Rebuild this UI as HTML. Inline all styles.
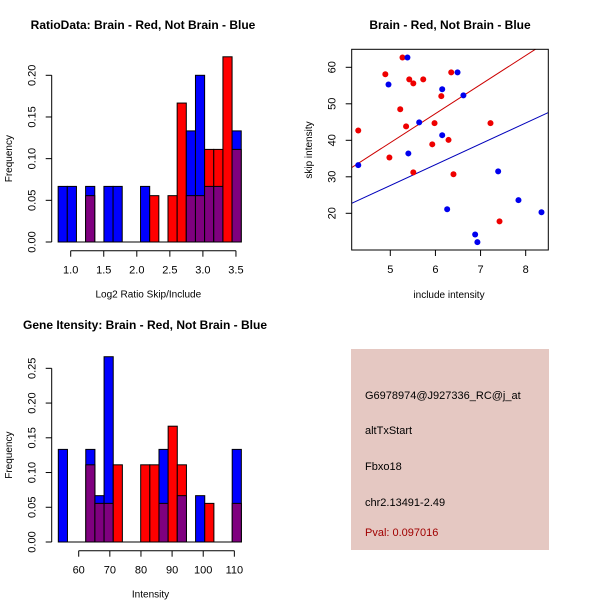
<!DOCTYPE html>
<html><head><meta charset="utf-8"><style>
body{margin:0;background:#fff}
svg{display:block;font-family:"Liberation Sans",sans-serif}
</style></head><body>
<svg id="c" width="600" height="600" viewBox="0 0 600 600" xmlns="http://www.w3.org/2000/svg">
<rect width="600" height="600" fill="#fff"/>
<text x="143" y="29" text-anchor="middle" font-size="12" font-weight="bold">RatioData: Brain - Red, Not Brain - Blue</text>
<text x="450" y="29" text-anchor="middle" font-size="12" font-weight="bold">Brain - Red, Not Brain - Blue</text>
<text x="145" y="329" text-anchor="middle" font-size="12" font-weight="bold">Gene Itensity: Brain - Red, Not Brain - Blue</text>
<g id="h1"></g>
<g id="h2"></g>
<g id="sc"></g>
<g>
<rect x="351" y="349" width="198" height="201" fill="#e5c8c2"/>
<text x="365" y="399" font-size="11">G6978974@J927336_RC@j_at</text>
<text x="365" y="434" font-size="11">altTxStart</text>
<text x="365" y="470" font-size="11">Fbxo18</text>
<text x="365" y="506" font-size="11">chr2.13491-2.49</text>
<text x="365" y="536" font-size="11" fill="#a00000">Pval: 0.097016</text>
</g>
</svg>
<script>
// Ratio histogram data (20 bins)
const ratioBinStart = 0.81, ratioBinWidth = 0.1385;
const ratioBlue = [0.0667,0.0667,0,0.0667,0,0.0667,0.0667,0,0,0.0667,0,0,0,0,0.1333,0.2,0.0667,0.0667,0,0.1333];
const ratioRed  = [0,0,0,0.0556,0,0,0,0,0,0,0.0556,0,0.0556,0.1667,0.0556,0.0556,0.1111,0.1111,0.2222,0.1111];
const ratioXTicks = [1.0,1.5,2.0,2.5,3.0,3.5];
const ratioYTicks = [0,0.05,0.10,0.15,0.20];
// Intensity histogram data
const intBinStart = 53.45, intBinWidth = 2.94;
const intBlue = [0.1333,0,0,0.1333,0.0667,0.2667,0,0,0,0,0,0.1333,0,0.0667,0,0.0667,0,0,0,0.1333];
const intRed  = [0,0,0,0.1111,0.0556,0.0556,0.1111,0,0,0.1111,0.1111,0.0556,0.1667,0.1111,0,0,0.0556,0,0,0.0556];
const intXTicks = [60,70,80,90,100,110];
const intYTicks = [0,0.05,0.10,0.15,0.20,0.25];
// Scatter data
const redX = [5.27,4.89,5.42,5.51,5.73,6.35,6.13,5.22,4.29,5.35,5.98,7.22,6.29,5.93,4.98,5.51,6.40,7.42];
const redY = [62.7,58.1,56.7,55.6,56.7,58.6,52.1,48.5,42.7,43.8,44.7,44.7,40.1,38.9,35.3,31.2,30.7,17.8];
const blueX = [5.38,6.49,4.96,6.15,6.62,5.64,6.15,5.40,4.29,7.39,7.84,6.26,8.35,6.88,6.93];
const blueY = [62.7,58.6,55.3,54.0,52.3,44.9,41.4,36.4,33.2,31.5,23.6,21.1,20.3,14.2,12.1];
const redFit = [32.5-7.96*4.14, 7.96];   // intercept, slope
const blueFit = [22.7-5.71*4.14, 5.71];
const scXTicks = [5,6,7,8];
const scYTicks = [20,30,40,50,60];

const NS="http://www.w3.org/2000/svg";
function mk(p,tag,a){const e=document.createElementNS(NS,tag);for(const k in a)e.setAttribute(k,a[k]);p.appendChild(e);return e;}
function txt(p,x,y,s,size,extra){const t=mk(p,'text',Object.assign({x:x,y:y,'font-size':size,'text-anchor':'middle'},extra||{}));t.textContent=s;return t;}

function hist(g,o){
  const sx=v=>o.x0+(v-o.xv0)*o.kx, sy=v=>o.y0-v*o.ky;
  for(let i=0;i<o.blue.length;i++){
    const b=o.blue[i], r=o.red[i];
    const xl=sx(o.start+i*o.w), xr=sx(o.start+(i+1)*o.w);
    const draw=(v,c,n)=>{if(v<=0)return;const e=mk(g,'rect',{x:xl,y:sy(v),width:xr-xl,height:sy(0)-sy(v),fill:c,stroke:'#000','stroke-width':1});
      
      };
    if(b>=r){draw(b,'#0000ff','bar-blue-'+i);draw(r,'#7f007f','bar-overlap-'+i);}
    else{draw(r,'#ff0000','bar-red-'+i);draw(b,'#7f007f','bar-overlap-'+i);}
  }
  mk(g,'line',{x1:sx(o.start),x2:sx(o.start+o.blue.length*o.w),y1:sy(0),y2:sy(0),stroke:'#000'});
  const ya=mk(g,'g',{});
  mk(ya,'line',{x1:o.ax,x2:o.ax,y1:sy(o.yt[0]),y2:sy(o.yt[o.yt.length-1]),stroke:'#000'});
  o.yt.forEach(v=>{const y=sy(v);mk(ya,'line',{x1:o.ax-6,x2:o.ax,y1:y,y2:y,stroke:'#000'});
    txt(ya,0,0,v.toFixed(2),11,{transform:`translate(${o.ax-16},${y}) rotate(-90)`});});
  const yl=txt(ya,0,0,'Frequency',10,{transform:`translate(12,${(sy(0)+sy(o.yt[o.yt.length-1]))/2}) rotate(-90)`});
  
  const xa=mk(g,'g',{});
  mk(xa,'line',{x1:sx(o.xt[0]),x2:sx(o.xt[o.xt.length-1]),y1:o.ay,y2:o.ay,stroke:'#000'});
  o.xt.forEach(v=>{const x=sx(v);mk(xa,'line',{x1:x,x2:x,y1:o.ay,y2:o.ay+6,stroke:'#000'});txt(xa,x,o.ay+23,o.fmt(v),11);});
  const xl=txt(xa,(o.x0+sx(o.xt[o.xt.length-1]))/2+o.lblDx,o.ay+47,o.xlabel,10);
  
}
hist(document.getElementById('h1'),{blue:ratioBlue,red:ratioRed,start:ratioBinStart,w:ratioBinWidth,
  x0:70.7,xv0:1.0,kx:66.1,y0:242,ky:833.5,ax:51.7,ay:250.7,xt:ratioXTicks,yt:ratioYTicks,fmt:v=>v.toFixed(1),xlabel:'Log2 Ratio Skip/Include',lblDx:-5});
hist(document.getElementById('h2'),{blue:intBlue,red:intRed,start:intBinStart,w:intBinWidth,
  x0:78.7,xv0:60,kx:3.113,y0:542,ky:694.7,ax:51.7,ay:550.7,xt:intXTicks,yt:intYTicks,fmt:v=>String(v),xlabel:'Intensity',lblDx:-6});

(function(){
  const g=document.getElementById('sc');
  const L=351.7,R=548.3,T=49.3,B=250;
  const sx=v=>390.3+(v-5)*45.13, sy=v=>67.3-(v-60)*3.65;
  const xmin=(L-390.3)/45.13+5, xmax=(R-390.3)/45.13+5;
  const cp=mk(g,'clipPath',{id:'scclip'});mk(cp,'rect',{x:L,y:T,width:R-L,height:B-T});
  const fit=(f,c,n)=>{const e=mk(g,'line',{x1:sx(xmin),y1:sy(f[0]+f[1]*xmin),x2:sx(xmax),y2:sy(f[0]+f[1]*xmax),stroke:c,'stroke-width':1,'clip-path':'url(#scclip)'});
    
    };
  fit(redFit,'#cc0000','red-fit-line');fit(blueFit,'#0000bb','blue-fit-line');
  redX.forEach((x,i)=>{const e=mk(g,'circle',{cx:sx(x),cy:sy(redY[i]),r:3,fill:'#ee0000'});
    
    });
  blueX.forEach((x,i)=>{const e=mk(g,'circle',{cx:sx(x),cy:sy(blueY[i]),r:3,fill:'#0000ee'});
    
    });
  mk(g,'rect',{x:L,y:T,width:R-L,height:B-T,fill:'none',stroke:'#000'});
  scXTicks.forEach(v=>{const x=sx(v);mk(g,'line',{x1:x,x2:x,y1:B,y2:B+6,stroke:'#000'});txt(g,x,B+23,String(v),11);});
  scYTicks.forEach(v=>{const y=sy(v);mk(g,'line',{x1:L-6,x2:L,y1:y,y2:y,stroke:'#000'});txt(g,0,0,String(v),11,{transform:`translate(${L-16},${y}) rotate(-90)`});});
  const xl=txt(g,449,B+48,'include intensity',10);
  
  const yl=txt(g,0,0,'skip intensity',10,{transform:`translate(312,150) rotate(-90)`});
  
})();
</script>
</body></html>
